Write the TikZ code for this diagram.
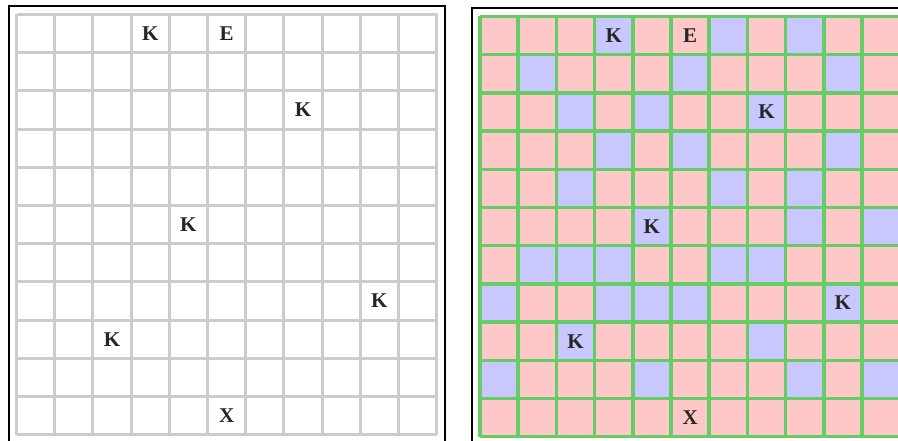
\documentclass[tikz,border=0pt]{standalone}
\usepackage{fontspec}
\setmainfont{Liberation Serif}
\usepackage{xcolor}
\usepackage{tikz}
\definecolor{cellpink}{RGB}{255,200,200}
\definecolor{cellblue}{RGB}{200,200,255}
\definecolor{gridgreen}{RGB}{102,204,102}
\definecolor{gridgray}{RGB}{204,204,204}
\tikzset{
  frame/.style={line width=1.5pt, black},
  piece/.style={font=\fontsize{21}{24}\selectfont\bfseries, text=black!85, inner sep=0pt}
}

\begin{document}
\begin{tikzpicture}[x=1pt, y=1pt]
\useasboundingbox (0,0) rectangle (898,441);
% frames
\draw[frame] (9,-10) -- (9,435) -- (445,435) -- (445,-10);
\draw[frame] (472,-10) -- (472,433) -- (910,433);
% plain board
\begin{scope}[shift={(16.5pt,6.3pt)}, x=38.2pt, y=38.2pt]
\draw[step=1, gridgray, line width=3pt] (0,0) grid (11,11);
\foreach \c/\r/\t [count=\i] in {3/0/K, 5/0/E, 7/2/K, 4/5/K, 9/7/K, 2/8/K, 5/10/X}
  \node[piece] (a\i) at (\c+.5,10.5-\r) {\t};
\end{scope}
% coloured board
\begin{scope}[shift={(480pt,4.3pt)}, x=38.2pt, y=38.2pt]
\fill[cellpink] (0,0) rectangle (11,11);
\foreach \r/\c in {0/3,0/6,0/8, 1/1,1/5,1/9, 2/2,2/4,2/7, 3/3,3/5,3/9,
                   4/2,4/6,4/8, 5/4,5/8,5/10, 6/1,6/2,6/3,6/6,6/7,
                   7/0,7/3,7/4,7/5,7/9, 8/2,8/7, 9/0,9/4,9/8,9/10}
  \fill[cellblue] (\c,10-\r) rectangle ++(1,1);
\draw[step=1, gridgreen, line width=3.5pt] (0,0) grid (11,11);
\foreach \c/\r/\t [count=\i] in {3/0/K, 5/0/E, 7/2/K, 4/5/K, 9/7/K, 2/8/K, 5/10/X}
  \node[piece] (b\i) at (\c+.5,10.5-\r) {\t};
\end{scope}
\end{tikzpicture}
\end{document}
